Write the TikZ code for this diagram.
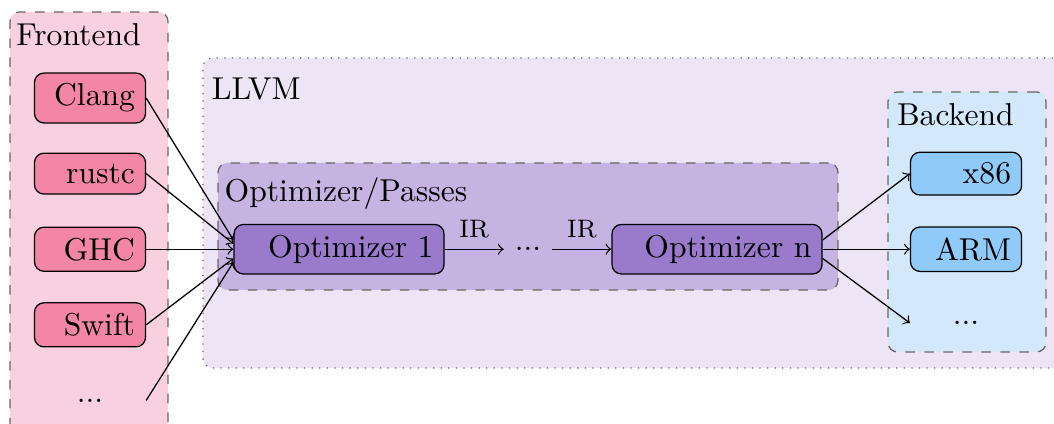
\documentclass[tikz,border=0pt]{standalone}
\usepackage{tikz}
\usetikzlibrary{positioning, fit, backgrounds}
\definecolor{feBack}  {HTML}{F9D0DF}
\definecolor{feNode}  {HTML}{F386A8}
\definecolor{llvmBack}{HTML}{EDE5F5}
\definecolor{optBack} {HTML}{C5B3E2}
\definecolor{optNode} {HTML}{9A7ACB}
\definecolor{beBack}  {HTML}{D3E8FB}
\definecolor{beNode}  {HTML}{90CAF9}
\tikzset{
  feblock/.style  = {rectangle, rounded corners=3pt, draw=black,
                     fill=feNode, text width=1cm, align=right},
  beblock/.style  = {feblock, fill=beNode},
  optblock/.style = {feblock, fill=optNode, text width=2.1cm},
  dotsnode/.style = {rectangle, text width=1cm, align=center},
  groupbox/.style = {rectangle, rounded corners=3pt, draw=black!60,
                     dashed, inner sep=0pt},
  grouplabel/.style = {inner sep=0pt, anchor=base west},
  arrow/.style    = {->, color=black},
}

\begin{document}
\begin{tikzpicture}[node distance=0.84cm and 2.1cm, on grid]

  \useasboundingbox (0,0) rectangle (11.711,-4.7);

  % ---- Frontend column ----
  \node[feblock] (clang) at (1.0,-1.089) {Clang};
  \node[feblock, below=of clang] (rustc)  {rustc};
  \node[feblock, below=of rustc] (ghc)    {GHC};
  \node[feblock, below=of ghc]   (swift)  {Swift};
  \node[dotsnode, below=of swift] (fedots) {...};

  % ---- Optimizer chain ----
  \node[optblock, right=2.767cm of ghc] (opt1)    {Optimizer 1};
  \node[inner sep=3.33pt, right=of opt1] (middots) {...};
  \node[optblock, right=of middots]      (optn)    {Optimizer n};

  % ---- Backend column ----
  \node[beblock, right=2.767cm of optn] (arm)    {ARM};
  \node[beblock, above=of arm]          (x86)    {x86};
  \node[dotsnode, below=0.82cm of arm]  (bedots) {...};

  % ---- Group boxes ----
  \begin{pgfonlayer}{background}
    \node[groupbox, fill=feBack, fit={(0.111,-0.133) (1.867,-4.889)}] (frontend) {};
    \node[groupbox, fill=llvmBack, dotted, fit={(2.256,-0.644) (11.89,-4.089)}] (llvm) {};
    \node[groupbox, fill=optBack, fit={(2.422,-1.811) (9.311,-3.222)}] (passes) {};
    \node[groupbox, fill=beBack, fit={(9.867,-1.022) (11.622,-3.911)}] (backend) {};
  \end{pgfonlayer}

  \node[grouplabel] (felabel)   at (0.174,-0.508) {Frontend};
  \node[grouplabel] (llvmlabel) at (2.348,-1.103) {LLVM};
  \node[grouplabel] (optlabel)  at (2.489,-2.241) {Optimizer/Passes};
  \node[grouplabel] (belabel)   at (9.963,-1.389) {Backend};

  % ---- Frontend -> optimizer ----
  \draw[arrow] (clang.east)  -- (opt1.175);
  \draw[arrow] (rustc.east)  -- (opt1.177);
  \draw[arrow] (ghc.east)    -- (opt1.west);
  \draw[arrow] (swift.east)  -- (opt1.185);
  \draw[arrow] (fedots.east) -- (opt1.187);

  % ---- IR between passes ----
  \draw[arrow] (opt1) -- node[above, font=\footnotesize]{IR} (middots);
  \draw[arrow] (middots) -- node[above, font=\footnotesize]{IR} (optn);

  % ---- Optimizer -> backend ----
  \draw[arrow] (optn.5)  -- (x86.west);
  \draw[arrow] (optn.east) -- (arm.west);
  \draw[arrow] (optn.-5) -- (bedots.west);

\end{tikzpicture}
\end{document}
